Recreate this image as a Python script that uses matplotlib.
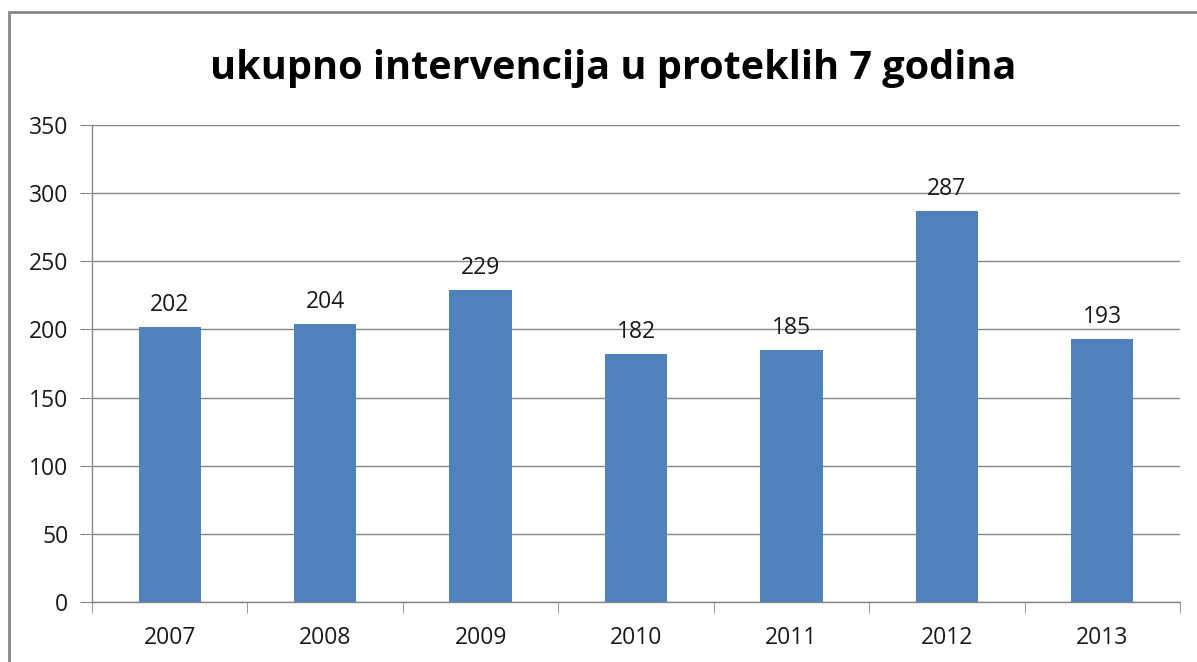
import numpy as np
import matplotlib.pyplot as plt
from matplotlib.patches import Rectangle

# data
years = ['2007', '2008', '2009', '2010', '2011', '2012', '2013']
interventions = [202, 204, 229, 182, 185, 287, 193]
y_ticks = [0, 50, 100, 150, 200, 250, 300, 350]

plt.rcParams['font.family'] = ['Open Sans', 'DejaVu Sans']

fig = plt.figure(figsize=(11.97, 6.62), dpi=100)
W, H = 1197, 662

# outer chart frame (cut by the image edge on right and bottom)
fig.patches.append(Rectangle((9 / W, -0.1), 1.2, (H - 12) / H + 0.1,
                             transform=fig.transFigure, fill=False,
                             edgecolor='#868686', linewidth=2))

ax = fig.add_axes([92 / W, 1 - 602 / H, (1180 - 92) / W, (602 - 125) / H])

x = np.arange(len(years))
ax.bar(x, interventions, width=0.4, color='#4F81BD', zorder=3)

for xi, v in zip(x, interventions):
    ax.text(xi, v + 7, str(v), ha='center', va='bottom', fontsize=16.5,
            color='#1a1a1a')

ax.set_xlim(-0.5, len(years) - 0.5)
ax.set_ylim(0, 350)
ax.set_yticks(y_ticks)
ax.yaxis.grid(True, color='#868686', linewidth=1, zorder=0)

ax.set_xticks(x)
ax.set_xticklabels(years)
ax.set_xticks(np.arange(-0.5, len(years)), minor=True)
ax.tick_params(axis='x', which='major', length=0, pad=17, labelsize=16.5,
               labelcolor='#1a1a1a')
ax.tick_params(axis='x', which='minor', length=8, color='#868686',
               direction='out')
ax.tick_params(axis='y', length=9, color='#868686', pad=8, labelsize=16.5,
               labelcolor='#1a1a1a')

for s in ['top', 'right']:
    ax.spines[s].set_visible(False)
for s in ['left', 'bottom']:
    ax.spines[s].set_color('#868686')
    ax.spines[s].set_linewidth(1)

fig.text(613 / W, 1 - 68 / H, 'ukupno intervencija u proteklih 7 godina',
         ha='center', va='center', fontsize=28.5, fontweight='bold')

fig.savefig('out.png', dpi=100)
